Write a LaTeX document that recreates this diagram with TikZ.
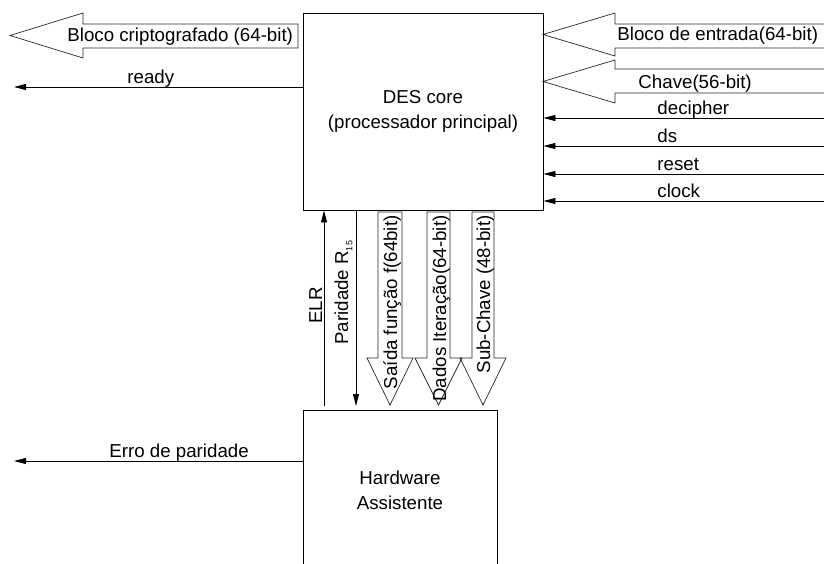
\documentclass[tikz,border=0pt]{standalone}
\usepackage{fontspec}
\setmainfont{Liberation Sans}
\usetikzlibrary{arrows.meta}
\begin{document}
\begin{tikzpicture}[x=1pt,y=-1pt,
  line width=0.9pt,
  every node/.style={font=\fontsize{18.7}{25}\selectfont, inner sep=0pt},
  block/.style={draw, minimum width=#1},
  sig/.style={-{Triangle[length=12pt,width=6pt]}},
  bus/.style={line width=0.7pt, draw=black!85},
  lbl/.style={anchor=base west},
  vlbl/.style={rotate=90, anchor=base east}]
\useasboundingbox (0,0) rectangle (824,563);
\clip (0,0) rectangle (824,563);

% main blocks
\node[block=240pt, minimum height=197pt, align=center] (des) at (423,111.5)
  {DES core\\(processador principal)};
\node[block=194pt, minimum height=170pt, anchor=north] (hw) at (400,410) {};
\node[align=center] (hwtext) at (400,490) {Hardware\\Assistente};

% ciphered output block (hollow bus arrow to the left)
\draw[bus] (298,24) -- (83,24) -- (83,13) -- (10,35.5) -- (83,58) -- (83,48) -- (298,48) -- cycle;
\node[lbl] (outtxt) at (67,41.5) {Bloco criptografado (64-bit)};

% input data and key buses (hollow arrows from the right)
\draw[bus] (830,24) -- (615,24) -- (615,13) -- (543,34.5) -- (615,56) -- (615,48) -- (830,48);
\node[lbl] (intxt) at (617,40.5) {Bloco de entrada(64-bit)};
\draw[bus] (830,69) -- (615,69) -- (615,60) -- (543,81.5) -- (615,103) -- (615,93) -- (830,93);
\node[lbl] (keytxt) at (638,88) {Chave(56-bit)};

% ready output
\coordinate (readyend) at (14,87);
\draw[sig] (des.west |- readyend) -- (readyend);
\node[lbl] (readytxt) at (127,83) {ready};

% control inputs
\coordinate (decin) at (824,118);
\coordinate (dsin) at (824,146);
\coordinate (rstin) at (824,174);
\coordinate (clkin) at (824,201);
\draw[sig] (decin) -- (decin -| des.east);
\draw[sig] (dsin) -- (dsin -| des.east);
\draw[sig] (rstin) -- (rstin -| des.east);
\draw[sig] (clkin) -- (clkin -| des.east);
\node[lbl] (dectxt) at (657,114) {decipher};
\node[lbl] (dstxt) at (657,142) {ds};
\node[lbl] (rsttxt) at (657,170) {reset};
\node[lbl] (clktxt) at (657,197) {clock};

% parity error output
\coordinate (errend) at (14,461);
\draw[sig] (hw.west |- errend) -- (errend);
\node[lbl] (errtxt) at (109,457.5) {Erro de paridade};

% ELR and parity lines between the blocks
\coordinate (elrbot) at (324,406);
\coordinate (partop) at (356,210);
\draw[sig] (elrbot) -- (elrbot |- des.south);
\draw[sig] (partop) -- (356,406);
\node[vlbl] (elrtxt) at (322,287) {ELR};
\node[rotate=90, anchor=base west] (partxt) at (348,345)
  {Paridade R\raisebox{-0.45ex}{\fontsize{9}{10}\selectfont 15}};

% internal buses down to the assistant hardware
\draw[bus] (378,212) -- (378,358) -- (367,358) -- (390,405) -- (413,358) -- (402,358) -- (402,212) -- cycle;
\draw[bus] (427,212) -- (427,358) -- (415,358) -- (438.5,405) -- (462,358) -- (450,358) -- (450,212) -- cycle;
\draw[bus] (472,212) -- (472,358) -- (460,358) -- (483,405) -- (506,358) -- (494,358) -- (494,212) -- cycle;
\node[vlbl] (ftxt) at (397,215) {Saída função f(64bit)};
\node[vlbl] (itertxt) at (446,215) {Dados Iteração(64-bit)};
\node[vlbl] (subtxt) at (490,215) {Sub-Chave (48-bit)};
\end{tikzpicture}
\end{document}
